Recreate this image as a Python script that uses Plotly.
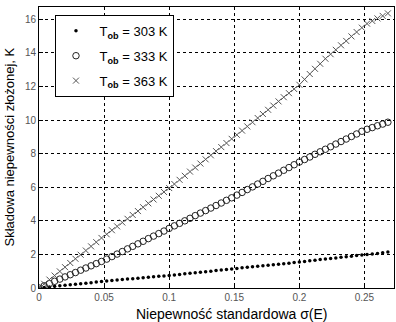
import plotly.graph_objects as go

x_sigma = [0.000, 0.004, 0.008, 0.012, 0.016, 0.020, 0.024, 0.028, 0.032, 0.036,
           0.040, 0.044, 0.048, 0.052, 0.056, 0.060, 0.064, 0.068, 0.072, 0.076,
           0.080, 0.084, 0.088, 0.092, 0.096, 0.100, 0.104, 0.108, 0.112, 0.116,
           0.120, 0.124, 0.128, 0.132, 0.136, 0.140, 0.144, 0.148, 0.152, 0.156,
           0.160, 0.164, 0.168, 0.172, 0.176, 0.180, 0.184, 0.188, 0.192, 0.196,
           0.200, 0.204, 0.208, 0.212, 0.216, 0.220, 0.224, 0.228, 0.232, 0.236,
           0.240, 0.244, 0.248, 0.252, 0.256, 0.260, 0.264, 0.268]

y_303 = [0.00, 0.03, 0.06, 0.10, 0.13, 0.16, 0.19, 0.22, 0.26, 0.29,
         0.32, 0.35, 0.38, 0.41, 0.44, 0.47, 0.50, 0.53, 0.55, 0.58,
         0.61, 0.64, 0.67, 0.70, 0.72, 0.75, 0.78, 0.81, 0.85, 0.88,
         0.91, 0.94, 0.97, 1.00, 1.04, 1.07, 1.10, 1.13, 1.16, 1.20,
         1.23, 1.26, 1.29, 1.32, 1.36, 1.39, 1.42, 1.45, 1.48, 1.52,
         1.55, 1.58, 1.62, 1.65, 1.69, 1.72, 1.76, 1.79, 1.83, 1.86,
         1.89, 1.93, 1.96, 1.99, 2.03, 2.06, 2.10, 2.14]

y_333 = [0.00, 0.13, 0.26, 0.40, 0.53, 0.66, 0.79, 0.92, 1.06, 1.19,
         1.32, 1.45, 1.58, 1.72, 1.87, 2.02, 2.17, 2.33, 2.48, 2.63,
         2.78, 2.94, 3.09, 3.24, 3.39, 3.55, 3.70, 3.85, 4.00, 4.15,
         4.31, 4.46, 4.61, 4.76, 4.91, 5.06, 5.22, 5.37, 5.53, 5.69,
         5.86, 6.02, 6.19, 6.35, 6.52, 6.68, 6.84, 7.01, 7.17, 7.34,
         7.50, 7.65, 7.80, 7.96, 8.11, 8.26, 8.41, 8.57, 8.72, 8.87,
         9.02, 9.17, 9.33, 9.45, 9.55, 9.66, 9.76, 9.87]

y_363 = [0.00, 0.25, 0.50, 0.74, 0.99, 1.24, 1.49, 1.74, 1.98, 2.23,
         2.48, 2.73, 2.98, 3.20, 3.44, 3.67, 3.90, 4.12, 4.35, 4.58,
         4.81, 5.04, 5.27, 5.49, 5.72, 5.95, 6.19, 6.44, 6.68, 6.93,
         7.17, 7.41, 7.66, 7.90, 8.15, 8.39, 8.63, 8.88, 9.12, 9.37,
         9.62, 9.87, 10.12, 10.36, 10.61, 10.86, 11.11, 11.36, 11.60, 11.85,
         12.10, 12.42, 12.74, 13.05, 13.35, 13.65, 13.92, 14.18, 14.45, 14.71,
         14.98, 15.24, 15.50, 15.74, 15.90, 16.05, 16.20, 16.35]

names = ["\u00a0T<sub><b>ob</b></sub> = 303 K",
         "\u00a0T<sub><b>ob</b></sub> = 333 K",
         "\u00a0T<sub><b>ob</b></sub> = 363 K"]

x_ticks = [0, 0.05, 0.1, 0.15, 0.2, 0.25]
x_ticklabels = ["0", "0.05", "0.1", "0.15", "0.2", "0.25"]
y_ticks = [0, 2, 4, 6, 8, 10, 12, 14, 16]

FONT = "Liberation Sans, Arial, sans-serif"

fig = go.Figure()
fig.add_trace(go.Scatter(x=x_sigma, y=y_303, mode="markers", name=names[0],
                         legendgroup="a",
                         marker=dict(symbol="circle", size=3.5, color="black")))
fig.add_trace(go.Scatter(x=x_sigma, y=y_333, mode="markers", name=names[1],
                         legendgroup="b",
                         marker=dict(symbol="circle-open", size=6.5, color="#222222",
                                     line=dict(width=1))))
fig.add_trace(go.Scatter(x=x_sigma, y=y_363, mode="markers", name=names[2],
                         legendgroup="c",
                         marker=dict(symbol="x-thin-open", size=6, color="#555555",
                                     line=dict(width=1, color="#555555"))))

axis_common = dict(
    showline=True, linecolor="black", linewidth=1, mirror=True,
    showgrid=True, gridcolor="black", griddash="dot", gridwidth=1,
    ticks="inside", ticklen=4, tickcolor="black", zeroline=False,
    tickfont=dict(family=FONT, size=10, color="#555555"),
)

fig.update_layout(
    width=396, height=322,
    margin=dict(l=39, r=2, t=7, b=34),
    paper_bgcolor="white", plot_bgcolor="white",
    font=dict(family=FONT, color="black"),
    showlegend=True,
    legend=dict(x=0.045, y=0.972, xanchor="left", yanchor="top",
                bgcolor="white", bordercolor="black", borderwidth=1,
                font=dict(family=FONT, size=13, color="black"),
                traceorder="grouped", tracegroupgap=5),
    xaxis=dict(range=[0, 0.2727], tickvals=x_ticks, ticktext=x_ticklabels, **axis_common),
    yaxis=dict(range=[0, 16.73], tickvals=y_ticks, **axis_common),
    annotations=[
        dict(text="Niepewność standardowa σ(E)", xref="paper", yref="paper",
             x=0.545, y=0, yshift=-16, xanchor="center", yanchor="top",
             showarrow=False, font=dict(family=FONT, size=14, color="black")),
        dict(text="Składowa niepewności złożonej, K", xref="paper", yref="paper",
             x=0, xshift=-30, y=0.5, xanchor="center", yanchor="middle",
             textangle=-90, showarrow=False,
             font=dict(family=FONT, size=13, color="black")),
    ],
)

fig.write_html("out.html", config={"displayModeBar": False},
               post_script="document.body.style.margin='0';")
